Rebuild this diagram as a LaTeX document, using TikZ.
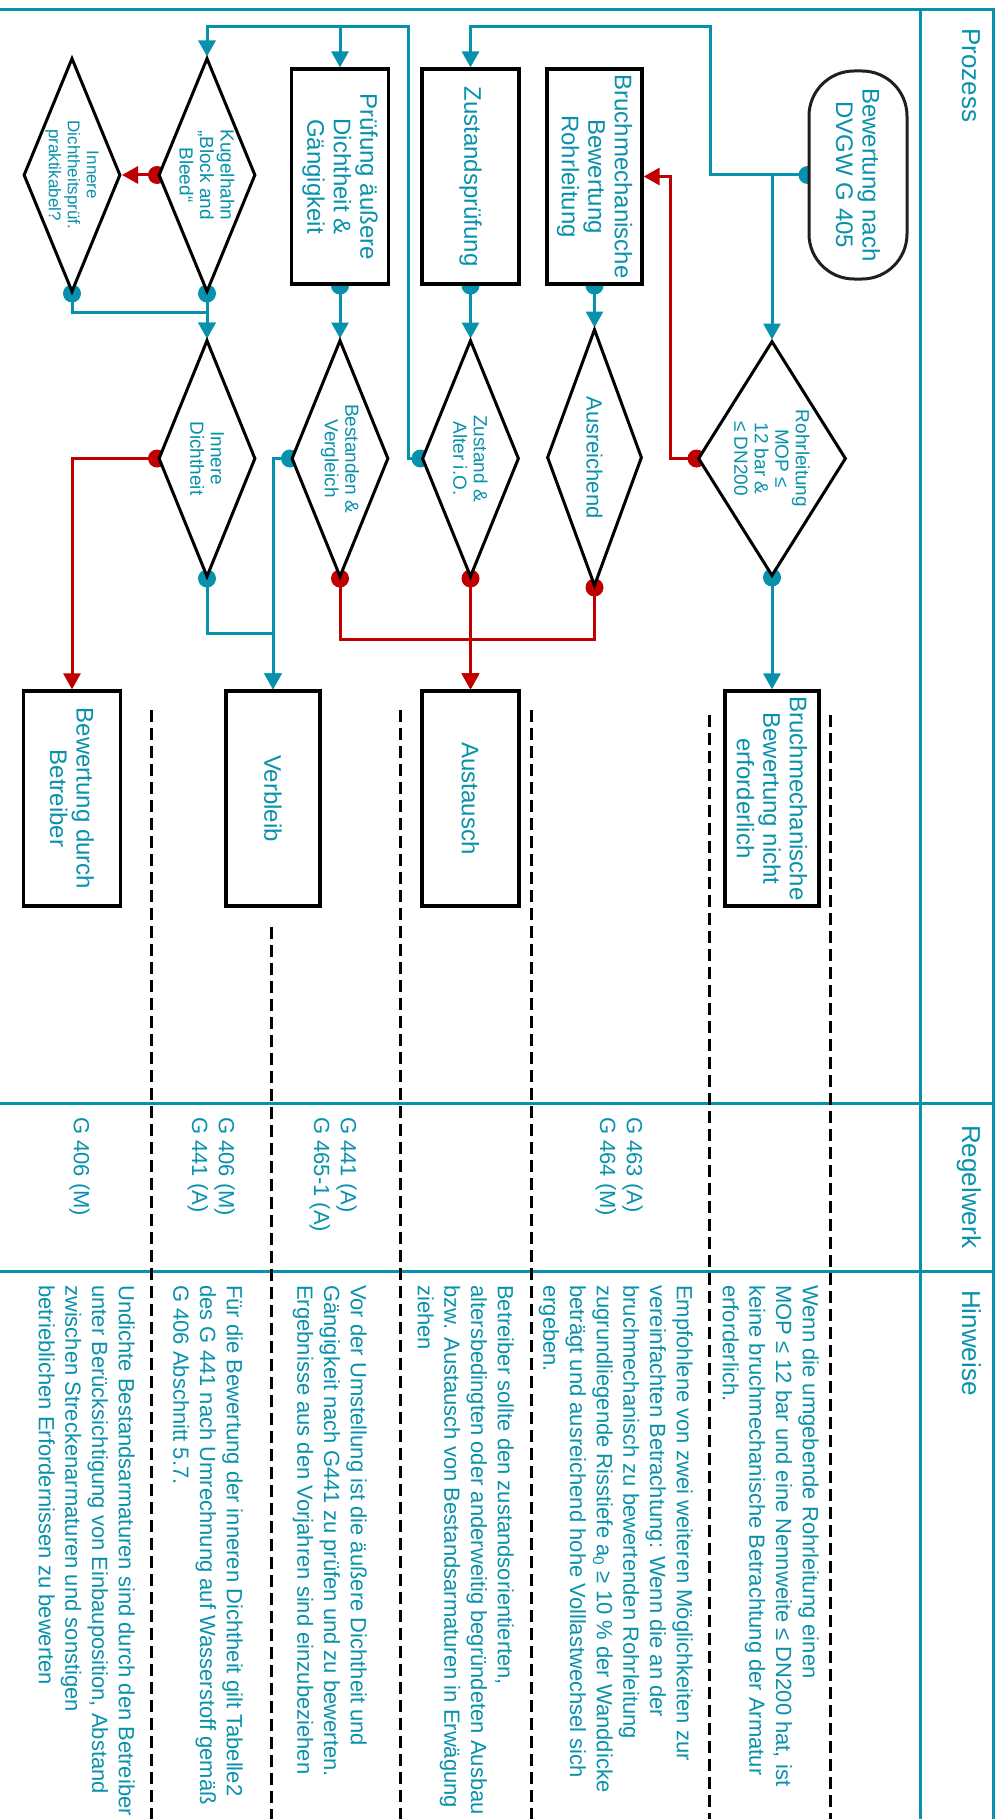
\documentclass[tikz,border=0pt]{standalone}
\usepackage{fontspec}
\setmainfont{Liberation Sans}
\usetikzlibrary{arrows.meta,shapes.geometric}
\definecolor{tl}{RGB}{8,145,172}
\definecolor{rd}{RGB}{192,0,0}
\pgfdeclarelayer{background}
\pgfsetlayers{background,main}
\begin{document}
\begin{tikzpicture}[x=1pt,y=-1pt,
  boxs/.style={draw=black,line width=3.2pt,fill=white,inner sep=0pt,minimum height=215pt},
  dia/.style={diamond,draw=black,line width=3pt,fill=white,inner sep=0pt},
  txt/.style={text=tl,rotate=-90,align=center,inner sep=0pt,font=\fontsize{24}{26.5}\selectfont},
  dtxt/.style={txt,font=\fontsize{19}{20.5}\selectfont},
  note/.style={text=tl,rotate=-90,align=left,inner sep=0pt,anchor=north west,font=\fontsize{22}{26.7}\selectfont},
  hdr/.style={text=tl,rotate=-90,inner sep=0pt,anchor=base west,font=\fontsize{26}{30}\selectfont},
  tc/.style={draw=tl,line width=3pt},
  rc/.style={draw=rd,line width=3pt},
  arr/.style={-{Triangle[length=16pt,width=17pt]}},
  frm/.style={draw=tl,line width=3pt},
  dashsep/.style={draw=black,line width=3pt,dash pattern=on 12pt off 6pt},
]
\useasboundingbox (0,0) rectangle (999,1819);

% ---------- shapes ----------
\node[draw=black!88,line width=3pt,fill=white,rounded corners=45pt,minimum width=98pt,minimum height=208pt,inner sep=0pt] (term) at (858,175) {};
\node[txt] (termt) at (term) {Bewertung nach\\DVGW G 405};

\node[boxs,minimum width=95pt] (b1) at (594.5,176.5) {};
\node[txt] (b1t) at (b1) {Bruchmechanische\\Bewertung\\Rohrleitung};
\node[boxs,minimum width=97pt] (b2) at (470.5,176.5) {};
\node[txt] (b2t) at (b2) {Zustandsprüfung};
\node[boxs,minimum width=97pt] (b3) at (340,176.5) {};
\node[txt] (b3t) at (b3) {Prüfung äußere\\Dichtheit \&\\Gängigkeit};

\node[dia,minimum width=97pt,minimum height=234pt] (d1) at (207,175) {};
\node[dtxt] (d1t) at (d1) {Kugelhahn\\„Block and\\Bleed“};
\node[dia,minimum width=97pt,minimum height=234pt] (d2) at (72,175) {};
\node[dtxt,font=\fontsize{17}{19}\selectfont] (d2t) at (d2) {Innere\\Dichtheitsprüf.\\praktikabel?};

\node[dia,minimum width=148pt,minimum height=235pt] (d3) at (772,458.5) {};
\node[dtxt] (d3t) at (d3) {Rohrleitung\\MOP ≤\\12 bar \&\\≤ DN200};
\node[dia,minimum width=95pt,minimum height=257pt] (d4) at (594.5,457.5) {};
\node[dtxt,font=\fontsize{22}{24}\selectfont] (d4t) at (d4) {Ausreichend};
\node[dia,minimum width=97pt,minimum height=237pt] (d5) at (470.5,458.5) {};
\node[dtxt] (d5t) at (d5) {Zustand \&\\Alter i.O.};
\node[dia,minimum width=97pt,minimum height=237pt] (d6) at (340,458.5) {};
\node[dtxt] (d6t) at (d6) {Bestanden \&\\Vergleich};
\node[dia,minimum width=97pt,minimum height=237pt] (d7) at (207,458.5) {};
\node[dtxt] (d7t) at (d7) {Innere\\Dichtheit};

\node[boxs,minimum width=97pt] (e1) at (72,798.5) {};
\node[txt] (e1t) at (e1) {Bewertung durch\\Betreiber};
\node[boxs,minimum width=94pt] (e2) at (273,798.5) {};
\node[txt] (e2t) at (e2) {Verbleib};
\node[boxs,minimum width=97pt] (e3) at (470.5,798.5) {};
\node[txt] (e3t) at (e3) {Austausch};
\node[boxs,minimum width=94pt] (e4) at (772,798.5) {};
\node[txt] (e4t) at (e4) {Bruchmechanische\\Bewertung nicht\\erforderlich};

% ---------- helper coordinates ----------
\coordinate (jt) at (710,27);
\coordinate (jtop) at (408,27);
\coordinate (jr1) at (670,300);
\coordinate (jk) at (0,312);
\coordinate (ja) at (0,639);
\coordinate (jv) at (0,633);

\begin{pgfonlayer}{background}
% frame
\draw[frm] (0,10) -- (993,10) -- (993,1819);
\draw[frm] (920,10) -- (920,1819);
\draw[frm] (0,1103) -- (993,1103);
\draw[frm] (0,1271) -- (993,1271);
% dashed separators
\draw[dashsep] (151,710) -- (151,1819);
\draw[dashsep] (271,927) -- (271,1819);
\draw[dashsep] (400,710) -- (400,1819);
\draw[dashsep] (531,710) -- (531,1819);
\draw[dashsep] (709,715) -- (709,1819);
\draw[dashsep] (830,715) -- (830,1819);

% teal connectors
\draw[tc,arr] (term.west) -| (jt) -| (b2.north);
\draw[tc,arr] (term.west -| d3.north) -- (d3.north);
\draw[tc,arr] (d3.south) -- (e4.north);
\draw[tc,arr] (b1.south) -- (d4.north);
\draw[tc,arr] (b2.south) -- (d5.north);
\draw[tc,arr] (b3.south) -- (d6.north);
\draw[tc,arr] (d5.west) -| (jtop) -| (d1.north);
\draw[tc,arr] (b3.north |- jtop) -- (b3.north);
\draw[tc,arr] (d1.south) -- (d7.north);
\draw[tc,arr] (d2.south) -- (d2.south |- jk) -| (d7.north);
\draw[tc,arr] (d7.south) -- (d7.south |- jv) -| (e2.north);
\draw[tc,arr] (d6.west) -| (e2.north);
% red connectors
\draw[rc,arr] (d3.west) -| (jr1) |- (b1.east);
\draw[rc,arr] (d1.west) -- (d2.east);
\draw[rc,arr] (d4.south) -- (d4.south |- ja) -| (e3.north);
\draw[rc,arr] (d6.south) -- (d6.south |- ja) -| (e3.north);
\draw[rc,arr] (d5.south) -- (e3.north);
\draw[rc,arr] (d7.west) -| (e1.north);

% start dots
\foreach \p in {term.west,b1.south,b2.south,b3.south,d1.south,d2.south,d3.south,d5.west,d6.west,d7.south}
  \fill[tl] (\p) circle (9pt);
\foreach \p in {d3.west,d4.south,d5.south,d6.south,d7.west,d1.west}
  \fill[rd] (\p) circle (9pt);
\end{pgfonlayer}

% ---------- header labels ----------
\node[hdr] (h1) at (962,28) {Prozess};
\node[hdr] (h2) at (962,1125) {Regelwerk};
\node[hdr] (h3) at (962,1290) {Hinweise};

% ---------- Regelwerk ----------
\node[note] (r1) at (90,1117) {G 406 (M)};
\node[note] (r2) at (235,1117) {G 406 (M)\\G 441 (A)};
\node[note] (r3) at (357,1117) {G 441 (A)\\G 465-1 (A)};
\node[note] (r4) at (643,1117) {G 463 (A)\\G 464 (M)};

% ---------- Hinweise ----------
\node[note] (nA) at (819,1285) {Wenn die umgebende Rohrleitung einen\\MOP ≤ 12 bar und eine Nennweite ≤ DN200 hat, ist\\keine bruchmechanische Betrachtung der Armatur\\erforderlich.};
\node[note] (nB) at (693,1285) {Empfohlene von zwei weiteren Möglichkeiten zur\\vereinfachten Betrachtung: Wenn die an der\\bruchmechanisch zu bewertenden Rohrleitung\\zugrundliegende Risstiefe a\textsubscript{0} ≥ 10 \% der Wanddicke\\beträgt und ausreichend hohe Volllastwechsel sich\\ergeben.};
\node[note] (nC) at (514,1285) {Betreiber sollte den zustandsorientierten,\\altersbedingten oder anderweitig begründeten Ausbau\\bzw. Austausch von Bestandsarmaturen in Erwägung\\ziehen};
\node[note] (nD) at (367,1285) {Vor der Umstellung ist die äußere Dichtheit und\\Gängigkeit nach G441 zu prüfen und zu bewerten.\\Ergebnisse aus den Vorjahren sind einzubeziehen};
\node[note] (nE) at (243,1285) {Für die Bewertung der inneren Dichtheit gilt Tabelle2\\des G 441 nach Umrechnung auf Wasserstoff gemäß\\G 406 Abschnitt 5.7.};
\node[note] (nF) at (135,1285) {Undichte Bestandsarmaturen sind durch den Betreiber\\unter Berücksichtigung von Einbauposition, Abstand\\zwischen Streckenarmaturen und sonstigen\\betrieblichen Erfordernissen zu bewerten};
\end{tikzpicture}
\end{document}
